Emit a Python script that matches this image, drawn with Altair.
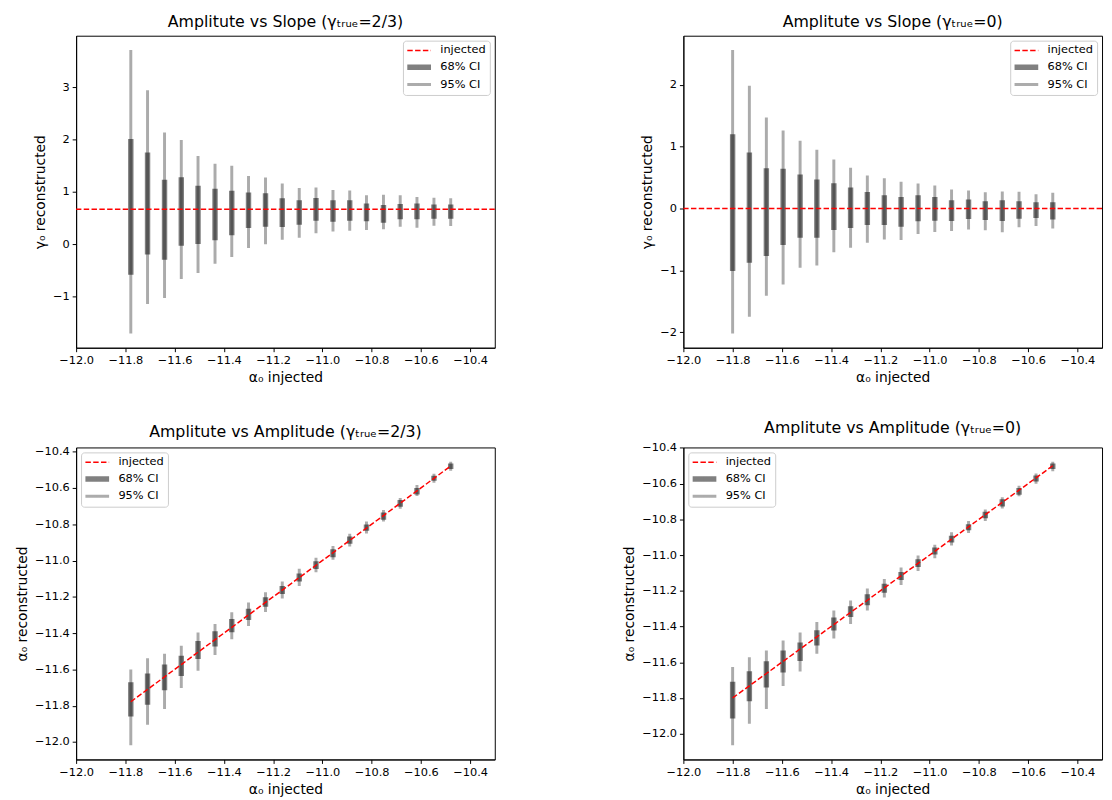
import altair as alt
import pandas as pd

# ---------------- data ----------------
SERIES = ["injected", "68% CI", "95% CI"]

x_left = [-11.778, -11.710, -11.641, -11.573, -11.505, -11.436, -11.368, -11.300,
          -11.231, -11.163, -11.094, -11.026, -10.957, -10.889, -10.821, -10.752,
          -10.684, -10.616, -10.547, -10.479]
x_right = [-11.800, -11.732, -11.663, -11.595, -11.526, -11.458, -11.389, -11.321,
           -11.253, -11.184, -11.116, -11.047, -10.979, -10.911, -10.842, -10.774,
           -10.705, -10.637, -10.568, -10.500]

# top-left: slope, gamma_true = 2/3
tl_lo95 = [-1.71, -1.145, -1.03, -0.67, -0.553, -0.377, -0.245, -0.075, -0.006, 0.082,
           0.12, 0.208, 0.239, 0.252, 0.27, 0.283, 0.333, 0.314, 0.352, 0.346]
tl_hi95 = [3.71, 2.94, 2.13, 1.99, 1.685, 1.535, 1.497, 1.30, 1.27, 1.157,
           1.069, 1.082, 1.031, 1.025, 0.931, 0.943, 0.931, 0.899, 0.887, 0.874]
tl_lo68 = [-0.585, -0.20, -0.30, -0.03, 0.0, 0.075, 0.17, 0.308, 0.333, 0.327,
           0.371, 0.447, 0.428, 0.447, 0.434, 0.409, 0.472, 0.472, 0.484, 0.484]
tl_hi68 = [2.006, 1.75, 1.23, 1.277, 1.113, 1.057, 1.019, 0.987, 0.969, 0.874,
           0.836, 0.88, 0.836, 0.836, 0.774, 0.748, 0.767, 0.774, 0.755, 0.755]
tl_true = 2 / 3

# top-right: slope, gamma_true = 0
tr_lo95 = [-2.021, -1.75, -1.41, -1.229, -0.957, -0.92, -0.707, -0.633, -0.553, -0.50,
           -0.51, -0.41, -0.378, -0.362, -0.34, -0.351, -0.383, -0.303, -0.282, -0.324]
tr_hi95 = [2.564, 1.984, 1.473, 1.261, 1.096, 0.952, 0.793, 0.66, 0.532, 0.489,
           0.431, 0.404, 0.372, 0.309, 0.293, 0.261, 0.277, 0.271, 0.229, 0.255]
tr_lo68 = [-1.011, -0.878, -0.766, -0.59, -0.473, -0.473, -0.346, -0.314, -0.266, -0.266,
           -0.293, -0.207, -0.197, -0.202, -0.17, -0.186, -0.202, -0.165, -0.154, -0.176]
tr_hi68 = [1.202, 0.904, 0.649, 0.644, 0.548, 0.468, 0.41, 0.34, 0.266, 0.213,
           0.186, 0.213, 0.186, 0.133, 0.144, 0.117, 0.133, 0.117, 0.101, 0.101]
tr_true = 0.0

# bottom-left: amplitude, gamma_true = 2/3
bl_lo95 = [-12.018, -11.905, -11.818, -11.702, -11.607, -11.520, -11.433, -11.360, -11.284, -11.209,
           -11.140, -11.064, -10.996, -10.922, -10.851, -10.785, -10.715, -10.645, -10.571, -10.505]
bl_hi95 = [-11.600, -11.538, -11.513, -11.469, -11.396, -11.349, -11.285, -11.231, -11.175, -11.115,
           -11.045, -10.985, -10.920, -10.853, -10.785, -10.722, -10.655, -10.584, -10.522, -10.455]
bl_lo68 = [-11.860, -11.795, -11.715, -11.636, -11.542, -11.473, -11.395, -11.327, -11.255, -11.185,
           -11.115, -11.047, -10.982, -10.907, -10.836, -10.775, -10.704, -10.636, -10.560, -10.495]
bl_hi68 = [-11.671, -11.622, -11.573, -11.524, -11.444, -11.389, -11.322, -11.265, -11.202, -11.140,
           -11.071, -11.004, -10.938, -10.867, -10.802, -10.735, -10.667, -10.600, -10.533, -10.465]

# bottom-right: amplitude, gamma_true = 0
br_lo95 = [-12.065, -11.945, -11.862, -11.733, -11.652, -11.552, -11.467, -11.386, -11.311, -11.237,
           -11.167, -11.089, -11.018, -10.947, -10.877, -10.809, -10.739, -10.671, -10.601, -10.531]
br_hi95 = [-11.626, -11.572, -11.535, -11.478, -11.434, -11.375, -11.311, -11.255, -11.187, -11.134,
           -11.069, -11.003, -10.942, -10.872, -10.809, -10.745, -10.676, -10.612, -10.544, -10.477]
br_lo68 = [-11.915, -11.819, -11.742, -11.657, -11.593, -11.506, -11.423, -11.347, -11.281, -11.211,
           -11.139, -11.067, -10.997, -10.929, -10.861, -10.794, -10.728, -10.662, -10.588, -10.518]
br_hi68 = [-11.709, -11.650, -11.594, -11.534, -11.489, -11.421, -11.349, -11.287, -11.220, -11.161,
           -11.095, -11.023, -10.957, -10.892, -10.828, -10.758, -10.688, -10.625, -10.555, -10.487]

x_ticks = [-12.0, -11.8, -11.6, -11.4, -11.2, -11.0, -10.8, -10.6, -10.4]
slope_ticks_tl = [-1, 0, 1, 2, 3]
slope_ticks_tr = [-2, -1, 0, 1, 2]
amp_ticks = [-12.0, -11.8, -11.6, -11.4, -11.2, -11.0, -10.8, -10.6, -10.4]

COLORS = ["#ff0000", "rgba(0,0,0,0.5)", "rgba(0,0,0,0.33)"]
WIDTHS = [1.5, 5.5, 3.0]
DASHES = [[5.5, 2.4], [1, 0], [1, 0]]

FONT = "DejaVu Sans"
W, H = 424, 316


def panel(title, x, lo95, hi95, lo68, hi68, ytitle, yticks, yfmt, orient, true_val=None):
    d95 = pd.DataFrame({"x": x, "lo": lo95, "hi": hi95, "series": "95% CI"})
    d68 = pd.DataFrame({"x": x, "lo": lo68, "hi": hi68, "series": "68% CI"})
    ymin, ymax = min(lo95), max(hi95)
    rng = ymax - ymin
    xs = alt.Scale(domain=[-12.0, -10.3], nice=False, zero=False)
    ys = alt.Scale(domain=[ymin - 0.05 * rng, ymax + 0.05 * rng], nice=False, zero=False)
    xaxis = alt.Axis(values=x_ticks, format=".1f", labelFlush=False, labelOverlap=False)
    yaxis = alt.Axis(values=yticks, format=yfmt, labelOverlap=False)
    legend = alt.Legend(
        title=None, orient=orient, symbolType="M-2.4,0H2.4", symbolSize=100,
        symbolOffset=4.4, labelFontSize=11.5, labelFont=FONT, labelColor="black",
        labelOffset=13.4, rowPadding=0, padding=4, strokeColor="#cccccc",
        fillColor="rgba(255,255,255,0.8)", cornerRadius=3, offset=5,
    )
    enc = dict(
        color=alt.Color("series:N", scale=alt.Scale(domain=SERIES, range=COLORS), legend=legend),
        strokeWidth=alt.StrokeWidth("series:N", scale=alt.Scale(type="ordinal", domain=SERIES, range=WIDTHS),
                                    legend=legend),
        strokeDash=alt.StrokeDash("series:N", scale=alt.Scale(domain=SERIES, range=DASHES), legend=legend),
    )
    X = alt.X("x:Q", scale=xs, axis=xaxis, title="α₀ injected")
    Y = alt.Y("lo:Q", scale=ys, axis=yaxis, title=ytitle)
    r95 = alt.Chart(d95).mark_rule(strokeCap="butt").encode(x=X, y=Y, y2="hi:Q", **enc)
    r68 = alt.Chart(d68).mark_rule(strokeCap="butt").encode(x=X, y=Y, y2="hi:Q", **enc)
    if true_val is not None:
        dinj = pd.DataFrame({"lo": [true_val], "series": ["injected"]})
        inj = alt.Chart(dinj).mark_rule().encode(y=Y, **enc)
    else:
        dinj = pd.DataFrame({"x": x, "lo": x, "series": "injected"})
        inj = alt.Chart(dinj).mark_line().encode(x=X, y=Y, **enc)
    return alt.layer(r95, r68, inj).properties(
        width=W, height=H,
        title=alt.TitleParams(title, fontSize=16, fontWeight="normal", font=FONT,
                              color="black", offset=6),
    )


p_tl = panel("Amplitute vs Slope (γₜᵣᵤₑ=2/3)", x_left, tl_lo95, tl_hi95, tl_lo68, tl_hi68,
             "γ₀ reconstructed", slope_ticks_tl, "d", "top-right", true_val=tl_true)
p_tr = panel("Amplitute vs Slope (γₜᵣᵤₑ=0)", x_right, tr_lo95, tr_hi95, tr_lo68, tr_hi68,
             "γ₀ reconstructed", slope_ticks_tr, "d", "top-right", true_val=tr_true)
p_bl = panel("Amplitute vs Amplitude (γₜᵣᵤₑ=2/3)", x_left, bl_lo95, bl_hi95, bl_lo68, bl_hi68,
             "α₀ reconstructed", amp_ticks, ".1f", "top-left")
p_br = panel("Amplitute vs Amplitude (γₜᵣᵤₑ=0)", x_right, br_lo95, br_hi95, br_lo68, br_hi68,
             "α₀ reconstructed", amp_ticks, ".1f", "top-left")

res = dict(x="independent", y="independent", color="independent",
           strokeWidth="independent", strokeDash="independent")

chart = alt.concat(
    p_tl, p_tr, p_bl, p_br, columns=2,
    spacing=alt.RowColnumber(row=101, column=191), bounds="flush",
).resolve_scale(**res).resolve_legend(
    color="independent", strokeWidth="independent", strokeDash="independent"
).properties(padding={"left": 7, "top": 0, "right": 0, "bottom": 0}).configure(
    font=FONT
).configure_view(
    stroke="black", strokeWidth=1
).configure_axis(
    domainColor="black", domainWidth=1, tickColor="black", tickSize=4, tickWidth=1,
    labelColor="black", labelFontSize=11.5, labelFont=FONT, labelPadding=3,
    titleColor="black", titleFontSize=14, titleFontWeight="normal", titleFont=FONT,
    titlePadding=5, grid=False
)

chart.save("out.html", embed_options={"renderer": "svg", "actions": False})
